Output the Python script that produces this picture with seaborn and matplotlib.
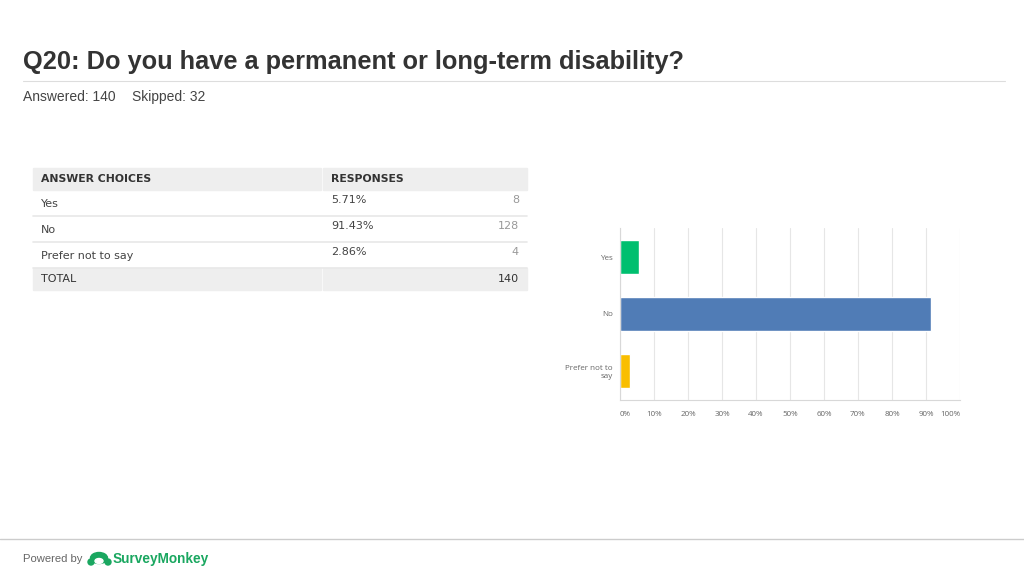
import matplotlib
matplotlib.use("Agg")
import matplotlib.pyplot as plt
import numpy as np
import pandas as pd
import seaborn as sns
from matplotlib.patches import Rectangle, Ellipse

TITLE = "Q20: Do you have a permanent or long-term disability?"
ANSWERED = 140
SKIPPED = 32

choices = ["Yes", "No", "Prefer not to say"]
chart_labels = ["Yes", "No", "Prefer not to\nsay"]
percents = [5.71, 91.43, 2.86]
counts = [8, 128, 4]
total = 140
bar_colors = ["#00BF6F", "#507CB6", "#F9BE00"]
x_ticks = [0, 10, 20, 30, 40, 50, 60, 70, 80, 90, 100]

sns.set_theme(style="white")
plt.rcParams["font.family"] = ["DejaVu Sans"]

fig = plt.figure(figsize=(10.24, 5.76), dpi=100)

# overlay in pixel coordinates for the page furniture and the table
page = fig.add_axes([0, 0, 1, 1])
page.set_xlim(0, 1024)
page.set_ylim(576, 0)
page.axis("off")

page.text(23, 62, TITLE, fontsize=18.3, fontweight="bold", color="#333333",
          family="Liberation Sans", va="center", ha="left")
page.plot([23, 1005], [81, 81], color="#dddddd", lw=0.8)
page.text(23, 97, f"Answered: {ANSWERED}", fontsize=10, color="#444444",
          family="Liberation Sans", va="center")
page.text(132, 97, f"Skipped: {SKIPPED}", fontsize=10, color="#444444",
          family="Liberation Sans", va="center")

page.plot([0, 1024], [539, 539], color="#cccccc", lw=1)
page.text(23, 559, "Powered by", fontsize=8.1, color="#666666",
          family="Liberation Sans", va="center")
page.text(113, 559, "SurveyMonkey", fontsize=9.8, fontweight="bold",
          color="#1aa760", family="Liberation Sans", va="center")
page.add_patch(Ellipse((99, 558), 17, 11, color="#1aa760"))
page.add_patch(Ellipse((91, 562), 6, 6, color="#1aa760"))
page.add_patch(Ellipse((108, 562), 6, 6, color="#1aa760"))
page.add_patch(Ellipse((99, 561), 8, 5, color="white"))

# table
tx0, tsplit, tx1 = 33, 322, 527
head_top, head_bot = 168, 190
row_h = 26
gray = "#eeeeee"
page.add_patch(Rectangle((tx0, head_top), tsplit - tx0 - 1, head_bot - head_top, color=gray))
page.add_patch(Rectangle((tsplit + 1, head_top), tx1 - tsplit - 1, head_bot - head_top, color=gray))
page.text(41, 179, "ANSWER CHOICES", fontsize=7.8, fontweight="bold", color="#333333", va="center")
page.text(331, 179, "RESPONSES", fontsize=7.8, fontweight="bold", color="#333333", va="center")
for i, (c, p, n) in enumerate(zip(choices, percents, counts)):
    top = head_bot + i * row_h
    page.text(41, top + 14, c, fontsize=8, color="#444444", va="center")
    page.text(331, top + 10, f"{p:.2f}%", fontsize=8, color="#444444", va="center")
    page.text(519, top + 10, str(n), fontsize=8, color="#999999", va="center", ha="right")
    page.plot([tx0, tx1], [top + row_h, top + row_h], color="#e8e8e8", lw=1.2)
tot_top = head_bot + len(choices) * row_h
page.add_patch(Rectangle((tx0, tot_top), tsplit - tx0 - 1, 22, color=gray))
page.add_patch(Rectangle((tsplit + 1, tot_top), tx1 - tsplit - 1, 22, color=gray))
page.text(41, tot_top + 11, "TOTAL", fontsize=8, color="#333333", va="center")
page.text(519, tot_top + 11, str(total), fontsize=8, color="#333333", va="center", ha="right")

# bar chart
ax = fig.add_axes([620 / 1024, 1 - 400 / 576, 340 / 1024, 172 / 576])
df = pd.DataFrame({"label": chart_labels, "pct": percents})
sns.barplot(data=df, x="pct", y="label", hue="label", palette=bar_colors,
            legend=False, width=0.61, ax=ax, saturation=1)
ax.set_xlim(0, 100)
ax.set_ylim(2.51, -0.51)
ax.set_xticks(x_ticks)
ax.set_xticklabels([f"{t}%" for t in x_ticks])
ax.set_xlabel("")
ax.set_ylabel("")
ax.grid(axis="x", color="#e6e6e6", lw=0.8)
ax.set_axisbelow(True)
for s in ["top", "right"]:
    ax.spines[s].set_visible(False)
for s in ["left", "bottom"]:
    ax.spines[s].set_color("#d8d8d8")
    ax.spines[s].set_linewidth(0.8)
ax.tick_params(axis="both", length=0, labelsize=5.8, colors="#666666")
ax.tick_params(axis="x", pad=8)
ax.tick_params(axis="y", pad=5)
for lab in ax.get_xticklabels() + ax.get_yticklabels():
    lab.set_family("Open Sans")
xl = ax.get_xticklabels()
xl[0].set_ha("left")
xl[-1].set_ha("right")

fig.savefig("out.png", dpi=100)
